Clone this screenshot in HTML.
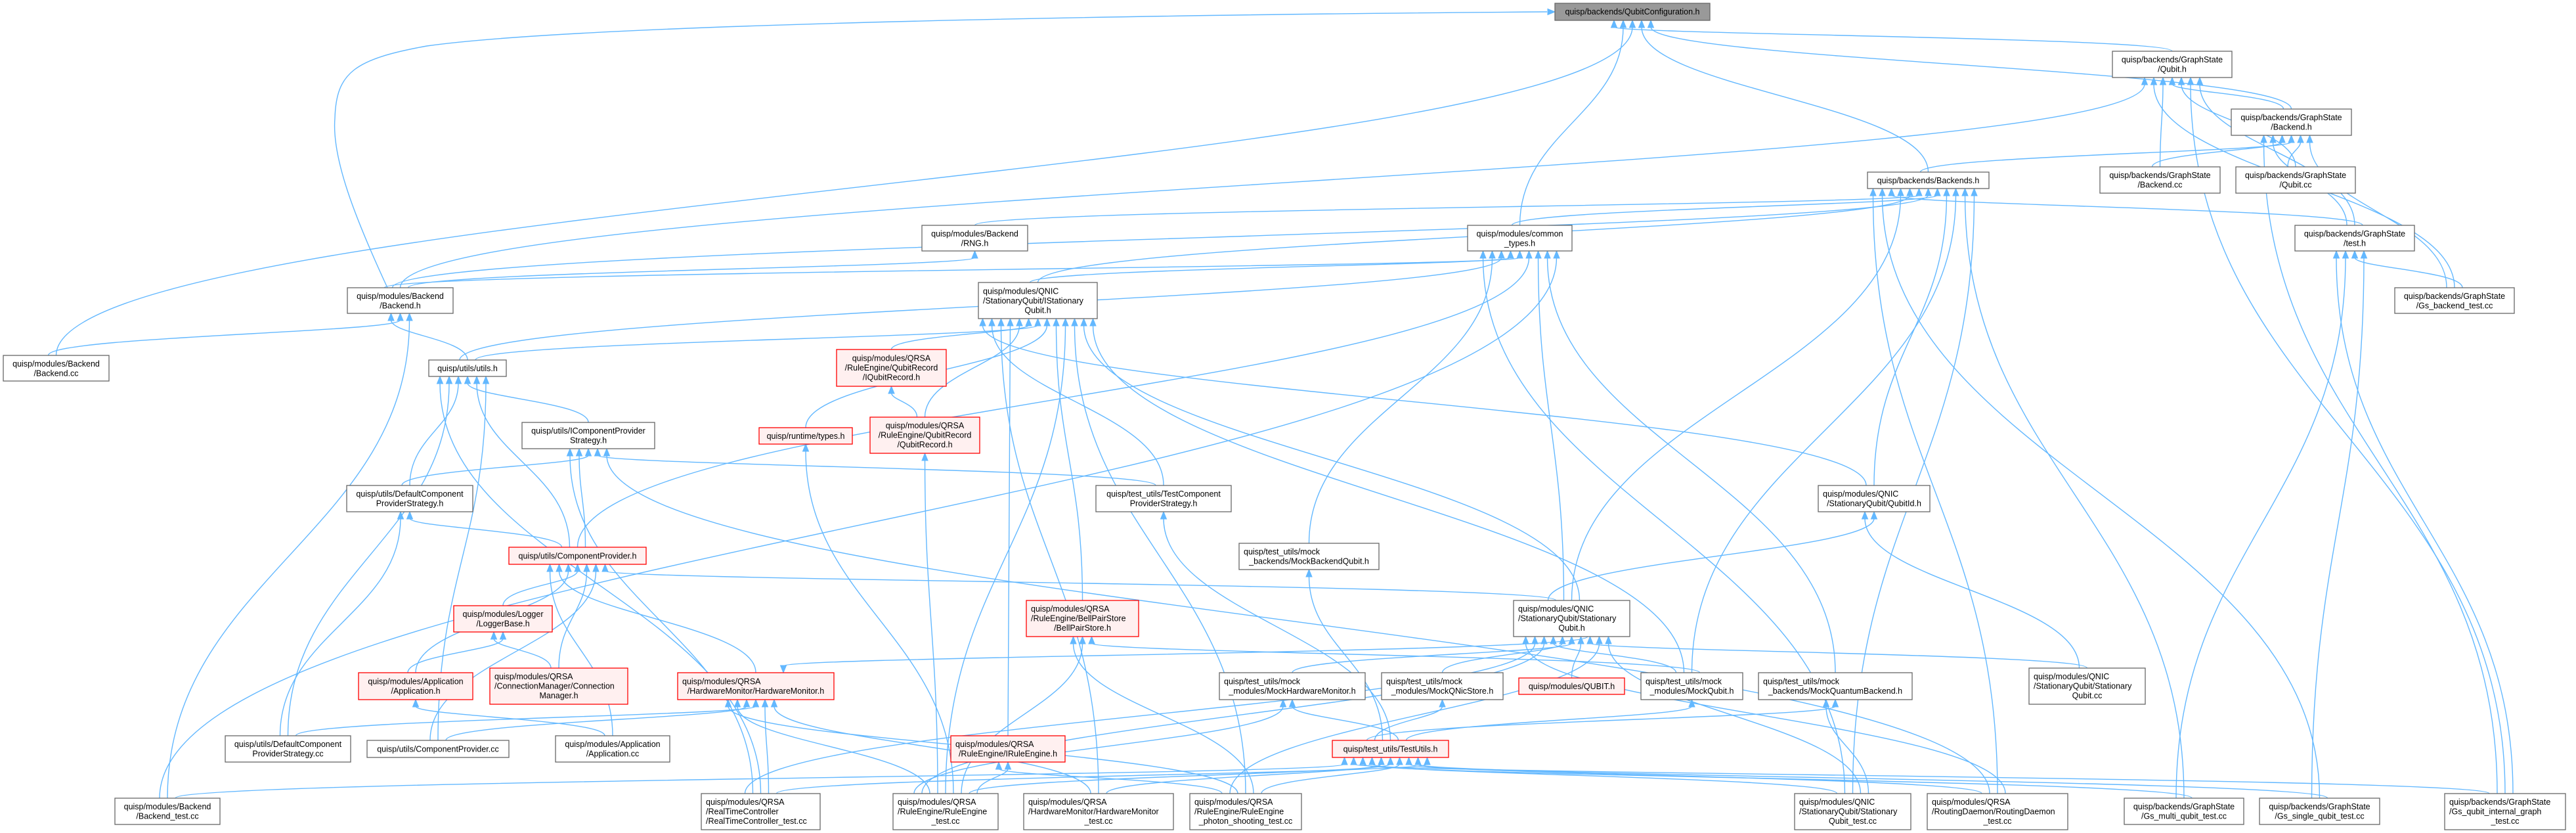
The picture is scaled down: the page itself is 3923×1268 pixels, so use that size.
<!DOCTYPE html>
<html><head><meta charset="utf-8"><style>
html,body{margin:0;padding:0;background:#fff;}
svg{display:block;}
text{font-family:"Liberation Sans",Arial,sans-serif;font-size:12.5px;fill:#000;}
.m{text-anchor:middle;}
</style></head><body>
<svg id="g" xmlns="http://www.w3.org/2000/svg" width="3923" height="1268" viewBox="0 0 3923 1268">
<rect width="3923" height="1268" fill="#fff"/>
<g id="edges" fill="none" stroke="#63b8ff" stroke-width="1.4"></g>
<g id="arrows" fill="#63b8ff" stroke="#63b8ff"></g>
<g id="nodes"></g>
<g id="labels">
<text class="m" x="2486" y="22">quisp/backends/QubitConfiguration.h</text>
<text class="m" x="3308" y="95">quisp/backends/GraphState</text><text class="m" x="3308" y="109.5">/Qubit.h</text>
<text class="m" x="3489.5" y="183">quisp/backends/GraphState</text><text class="m" x="3489.5" y="197.5">/Backend.h</text>
<text class="m" x="2936.5" y="279">quisp/backends/Backends.h</text>
<text class="m" x="3289.5" y="271">quisp/backends/GraphState</text><text class="m" x="3289.5" y="285.5">/Backend.cc</text>
<text class="m" x="3496" y="271">quisp/backends/GraphState</text><text class="m" x="3496" y="285.5">/Qubit.cc</text>
<text class="m" x="3586" y="360">quisp/backends/GraphState</text><text class="m" x="3586" y="374.5">/test.h</text>
<text class="m" x="3738" y="455">quisp/backends/GraphState</text><text class="m" x="3738" y="469.5">/Gs_backend_test.cc</text>
<text class="m" x="1484.5" y="360">quisp/modules/Backend</text><text class="m" x="1484.5" y="374.5">/RNG.h</text>
<text class="m" x="2314.5" y="360">quisp/modules/common</text><text class="m" x="2314.5" y="374.5">_types.h</text>
<text class="m" x="609.5" y="455">quisp/modules/Backend</text><text class="m" x="609.5" y="469.5">/Backend.h</text>
<text class="m" x="85.5" y="558">quisp/modules/Backend</text><text class="m" x="85.5" y="572.5">/Backend.cc</text>
<text class="m" x="712" y="565">quisp/utils/utils.h</text>
<text x="1497" y="447.25">quisp/modules/QNIC</text><text x="1497" y="461.75">/StationaryQubit/IStationary</text><text class="m" x="1580.5" y="476.25">Qubit.h</text>
<text class="m" x="1357.5" y="549.5">quisp/modules/QRSA</text><text class="m" x="1357.5" y="564">/RuleEngine/QubitRecord</text><text class="m" x="1357.5" y="578.5">/IQubitRecord.h</text>
<text class="m" x="896" y="660">quisp/utils/IComponentProvider</text><text class="m" x="896" y="674.5">Strategy.h</text>
<text class="m" x="1227" y="668">quisp/runtime/types.h</text>
<text class="m" x="1408.5" y="652">quisp/modules/QRSA</text><text class="m" x="1408.5" y="666.5">/RuleEngine/QubitRecord</text><text class="m" x="1408.5" y="681">/QubitRecord.h</text>
<text class="m" x="624" y="756">quisp/utils/DefaultComponent</text><text class="m" x="624" y="770.5">ProviderStrategy.h</text>
<text class="m" x="1772" y="756">quisp/test_utils/TestComponent</text><text class="m" x="1772" y="770.5">ProviderStrategy.h</text>
<text x="2776" y="756">quisp/modules/QNIC</text><text class="m" x="2854" y="770.5">/StationaryQubit/QubitId.h</text>
<text class="m" x="879.5" y="850.5">quisp/utils/ComponentProvider.h</text>
<text x="1894" y="844">quisp/test_utils/mock</text><text class="m" x="1993.5" y="858.5">_backends/MockBackendQubit.h</text>
<text x="1570" y="931">quisp/modules/QRSA</text><text x="1570" y="945.5">/RuleEngine/BellPairStore</text><text class="m" x="1648.5" y="960">/BellPairStore.h</text>
<text x="2312" y="931">quisp/modules/QNIC</text><text x="2312" y="945.5">/StationaryQubit/Stationary</text><text class="m" x="2393.5" y="960">Qubit.h</text>
<text class="m" x="766" y="939">quisp/modules/Logger</text><text class="m" x="766" y="953.5">/LoggerBase.h</text>
<text class="m" x="633" y="1041.5">quisp/modules/Application</text><text class="m" x="633" y="1056">/Application.h</text>
<text x="753" y="1034">quisp/modules/QRSA</text><text x="753" y="1048.5">/ConnectionManager/Connection</text><text class="m" x="851" y="1063">Manager.h</text>
<text x="1039" y="1041.5">quisp/modules/QRSA</text><text class="m" x="1151" y="1056">/HardwareMonitor/HardwareMonitor.h</text>
<text x="1864" y="1041.5">quisp/test_utils/mock</text><text class="m" x="1968" y="1056">_modules/MockHardwareMonitor.h</text>
<text x="2111" y="1041.5">quisp/test_utils/mock</text><text class="m" x="2196.5" y="1056">_modules/MockQNicStore.h</text>
<text class="m" x="2393.5" y="1049">quisp/modules/QUBIT.h</text>
<text x="2506" y="1041.5">quisp/test_utils/mock</text><text class="m" x="2576.5" y="1056">_modules/MockQubit.h</text>
<text x="2685" y="1041.5">quisp/test_utils/mock</text><text class="m" x="2795" y="1056">_backends/MockQuantumBackend.h</text>
<text x="3097" y="1034">quisp/modules/QNIC</text><text x="3097" y="1048.5">/StationaryQubit/Stationary</text><text class="m" x="3178.5" y="1063">Qubit.cc</text>
<text class="m" x="438.5" y="1137">quisp/utils/DefaultComponent</text><text class="m" x="438.5" y="1151.5">ProviderStrategy.cc</text>
<text class="m" x="667" y="1144.5">quisp/utils/ComponentProvider.cc</text>
<text class="m" x="933" y="1137">quisp/modules/Application</text><text class="m" x="933" y="1151.5">/Application.cc</text>
<text class="m" x="2117.5" y="1144.5">quisp/test_utils/TestUtils.h</text>
<text x="1455" y="1137">quisp/modules/QRSA</text><text class="m" x="1535" y="1151.5">/RuleEngine/IRuleEngine.h</text>
<text class="m" x="255" y="1232">quisp/modules/Backend</text><text class="m" x="255" y="1246.5">/Backend_test.cc</text>
<text x="1075" y="1225">quisp/modules/QRSA</text><text x="1075" y="1239.5">/RealTimeController</text><text x="1075" y="1254">/RealTimeController_test.cc</text>
<text x="1367" y="1225">quisp/modules/QRSA</text><text x="1367" y="1239.5">/RuleEngine/RuleEngine</text><text class="m" x="1440" y="1254">_test.cc</text>
<text x="1566" y="1225">quisp/modules/QRSA</text><text x="1566" y="1239.5">/HardwareMonitor/HardwareMonitor</text><text class="m" x="1673" y="1254">_test.cc</text>
<text x="1819" y="1225">quisp/modules/QRSA</text><text x="1819" y="1239.5">/RuleEngine/RuleEngine</text><text class="m" x="1897" y="1254">_photon_shooting_test.cc</text>
<text x="2740" y="1225">quisp/modules/QNIC</text><text x="2740" y="1239.5">/StationaryQubit/Stationary</text><text class="m" x="2821.5" y="1254">Qubit_test.cc</text>
<text x="2942" y="1225">quisp/modules/QRSA</text><text x="2942" y="1239.5">/RoutingDaemon/RoutingDaemon</text><text class="m" x="3042" y="1254">_test.cc</text>
<text class="m" x="3326" y="1232">quisp/backends/GraphState</text><text class="m" x="3326" y="1246.5">/Gs_multi_qubit_test.cc</text>
<text class="m" x="3532.5" y="1232">quisp/backends/GraphState</text><text class="m" x="3532.5" y="1246.5">/Gs_single_qubit_test.cc</text>
<text x="3730" y="1225">quisp/backends/GraphState</text><text x="3730" y="1239.5">/Gs_qubit_internal_graph</text><text class="m" x="3815" y="1254">_test.cc</text>
</g>
</svg>
<script>
(function(){
var N={
QC:[2368,5,2604,31,"g"],GSQ:[3217,78,3399,118,"w"],GSB:[3398,166,3581,206,"w"],BKS:[2844,262,3029,287,"w"],
GSBC:[3198,254,3381,294,"w"],GSQC:[3405,254,3587,294,"w"],TH:[3495,343,3677,382,"w"],GSBT:[3647,438,3829,477,"w"],
RNG:[1404,343,1565,382,"w"],CT:[2235,343,2394,382,"w"],BH:[529,438,690,477,"w"],BCC:[5,541,166,580,"w"],
UT:[653,548,771,573,"w"],ISQ:[1490,430,1671,485,"w"],IQR:[1274,532,1441,588,"r"],ICPS:[795,643,997,683,"w"],
TYP:[1156,651,1298,676,"r"],QR:[1325,635,1492,690,"r"],DCPS:[528,739,720,779,"w"],TCPS:[1669,739,1875,779,"w"],
QID:[2769,739,2939,779,"w"],CP:[775,833,984,859,"r"],MBQ:[1887,827,2100,867,"w"],BPS:[1563,914,1734,969,"r"],
SQ:[2305,914,2482,969,"w"],LB:[691,922,841,962,"r"],APH:[546,1024,720,1065,"r"],CM:[746,1017,956,1072,"r"],
HM:[1032,1024,1270,1065,"r"],MHM:[1857,1024,2079,1065,"w"],MQN:[2104,1024,2289,1065,"w"],QB:[2313,1032,2474,1057,"r"],
MQ:[2499,1024,2654,1065,"w"],MQB:[2678,1024,2912,1065,"w"],SQC:[3090,1017,3267,1072,"w"],DCPSC:[343,1120,534,1160,"w"],
CPC:[559,1127,775,1153,"w"],APC:[846,1120,1020,1160,"w"],TU:[2029,1127,2206,1153,"r"],IRE:[1448,1120,1622,1160,"r"],
BT:[175,1215,335,1255,"w"],RTC:[1068,1208,1249,1263,"w"],RET:[1360,1208,1520,1263,"w"],HMT:[1559,1208,1787,1263,"w"],
PST:[1812,1208,1982,1263,"w"],SQT:[2733,1208,2910,1263,"w"],RDT:[2935,1208,3149,1263,"w"],GMT:[3235,1215,3417,1255,"w"],
GST:[3441,1215,3624,1255,"w"],GIT:[3723,1208,3907,1263,"w"]
};
var E=[
["BCC","QC"],["CT","QC"],["BKS","QC"],["GSQ","QC"],["GSB","QC"],
["BCC","BH"],["UT","BH"],["BT","BH"],
["GSB","GSQ"],["GSBC","GSQ"],["GSQC","GSQ"],["GSBT","GSQ"],["GIT","GSQ"],["BH","GSQ"],["TH","GSQ"],
["BKS","GSB"],["GSBC","GSB"],["GSQC","GSB"],["TH","GSB"],["GSBT","GSB"],["GIT","GSB"],
["BH","BKS"],["RNG","BKS"],["CT","BKS"],["ISQ","BKS"],["QID","BKS"],["SQ","BKS"],["MQ","BKS"],["TH","BKS"],["GMT","BKS"],["GST","BKS"],["SQT","BKS"],["RDT","BKS"],
["BH","RNG"],
["BH","CT"],["ISQ","CT"],["CP","CT"],["UT","CT"],["SQ","CT"],["MBQ","CT"],["MQB","CT"],["SQT","CT"],["BT","CT"],
["GSBT","TH"],["GMT","TH"],["GST","TH"],["GIT","TH"],
["UT","ISQ"],["IQR","ISQ"],["TYP","ISQ"],["QR","ISQ"],["BPS","ISQ"],["IRE","ISQ"],["RET","ISQ"],["HMT","ISQ"],["PST","ISQ"],["TCPS","ISQ"],["SQ","ISQ"],["QID","ISQ"],["MQ","ISQ"],
["ICPS","UT"],["DCPS","UT"],["CP","UT"],["DCPSC","UT"],["CPC","UT"],["RTC","UT"],
["QR","IQR"],["RET","QR"],["RET","TYP"],
["DCPS","ICPS"],["CP","ICPS"],["TCPS","ICPS"],["RTC","ICPS"],["RDT","ICPS"],
["CP","DCPS"],["DCPSC","DCPS"],
["LB","CP"],["APH","CP"],["CM","CP"],["HM","CP"],["CPC","CP"],["APC","CP"],["SQ","CP"],
["APH","LB"],["CM","LB"],["APC","APH"],
["DCPSC","HM"],["CPC","HM"],["RTC","HM"],["RET","HM"],["HMT","HM"],["PST","HM"],["SQ","HM"],
["TU","TCPS"],["TU","MBQ"],
["RET","BPS"],["PST","BPS"],["MQ","BPS"],
["MHM","SQ"],["MQN","SQ"],["QB","SQ"],["MQ","SQ"],["SQC","SQ"],["RET","SQ"],["PST","SQ"],["RTC","SQ"],["SQT","SQ"],["RDT","SQ"],
["SQ","QID"],["SQC","QID"],
["RET","TU"],["HMT","TU"],["PST","TU"],["SQT","TU"],["RDT","TU"],["GMT","TU"],["GST","TU"],["GIT","TU"],["RTC","TU"],["BT","TU"],
["TU","MHM"],["RET","MHM"],["TU","MQN"],["TU","MQ"],["TU","MQB"],["SQT","MQB"],
["RET","IRE"],["PST","IRE"]
];
var NS="http://www.w3.org/2000/svg";
function el(t,a,p){var e=document.createElementNS(NS,t);for(var k in a)e.setAttribute(k,a[k]);p.appendChild(e);return e;}
var eg=document.getElementById("edges"),ag=document.getElementById("arrows"),ng=document.getElementById("nodes");
var cntOut={},cntIn={};
function slot(m,id,sp){m[id]=(m[id]||0)+1;var k=m[id];return ((k%2)?1:-1)*Math.floor(k/2)*sp;}
function arrow(x,y,ux,uy){var px=-uy,py=ux,AL=11,AW=4.5;
el("polygon",{points:x+","+y+" "+(x-ux*AL+px*AW)+","+(y-uy*AL+py*AW)+" "+(x-ux*AL-px*AW)+","+(y-uy*AL-py*AW)},ag);}
E.forEach(function(e){
var s=N[e[0]],d=N[e[1]];
var scx=(s[0]+s[2])/2+slot(cntOut,e[0],12),dcx=(d[0]+d[2])/2+slot(cntIn,e[1],14);
scx=Math.max(s[0]+6,Math.min(s[2]-6,scx));dcx=Math.max(d[0]+6,Math.min(d[2]-6,dcx));
var sx,sy,ex,ey,c1x,c1y,c2x,c2y,hh,w;
if(s[1]>=d[3]-2){sx=scx;sy=s[1];ex=dcx;ey=d[3];hh=(sy-ey)*0.45;c1x=sx;c1y=sy-hh;c2x=ex;c2y=ey+hh;}
else if(s[3]<=d[1]+2){sx=scx;sy=s[3];ex=dcx;ey=d[1];hh=(ey-sy)*0.45;c1x=sx;c1y=sy+hh;c2x=ex;c2y=ey-hh;}
else{var dcy=(d[1]+d[3])/2,scy=(s[1]+s[3])/2;
 if(s[0]>d[2]){sx=s[0];ex=d[2];}else{sx=s[2];ex=d[0];}
 sy=scy;ey=dcy;w=(ex-sx)*0.4;c1x=sx+w;c1y=sy;c2x=ex-w;c2y=ey;}
var ux=ex-c2x,uy=ey-c2y,l=Math.sqrt(ux*ux+uy*uy)||1;ux/=l;uy/=l;
var bx=ex-ux*10,by=ey-uy*10;
el("path",{d:"M"+sx+","+sy+" C"+c1x+","+c1y+" "+c2x+","+c2y+" "+bx+","+by},eg);
arrow(ex,ey,ux,uy);
});
el("path",{d:"M590,438 C540,330 505,240 510,180 C512,110 540,90 650,70 C900,35 1800,22 2356,18"},eg);
arrow(2368,18,1,0);
for(var id in N){var n=N[id],t=n[4];
var fill=t=="g"?"#999999":(t=="r"?"#fff0f0":"#ffffff"),st=t=="r"?"#ff0000":"#666666";
el("rect",{x:n[0],y:n[1],width:n[2]-n[0],height:n[3]-n[1],fill:fill,stroke:st,"stroke-width":1.3},ng);}
})();
</script>
</body></html>
